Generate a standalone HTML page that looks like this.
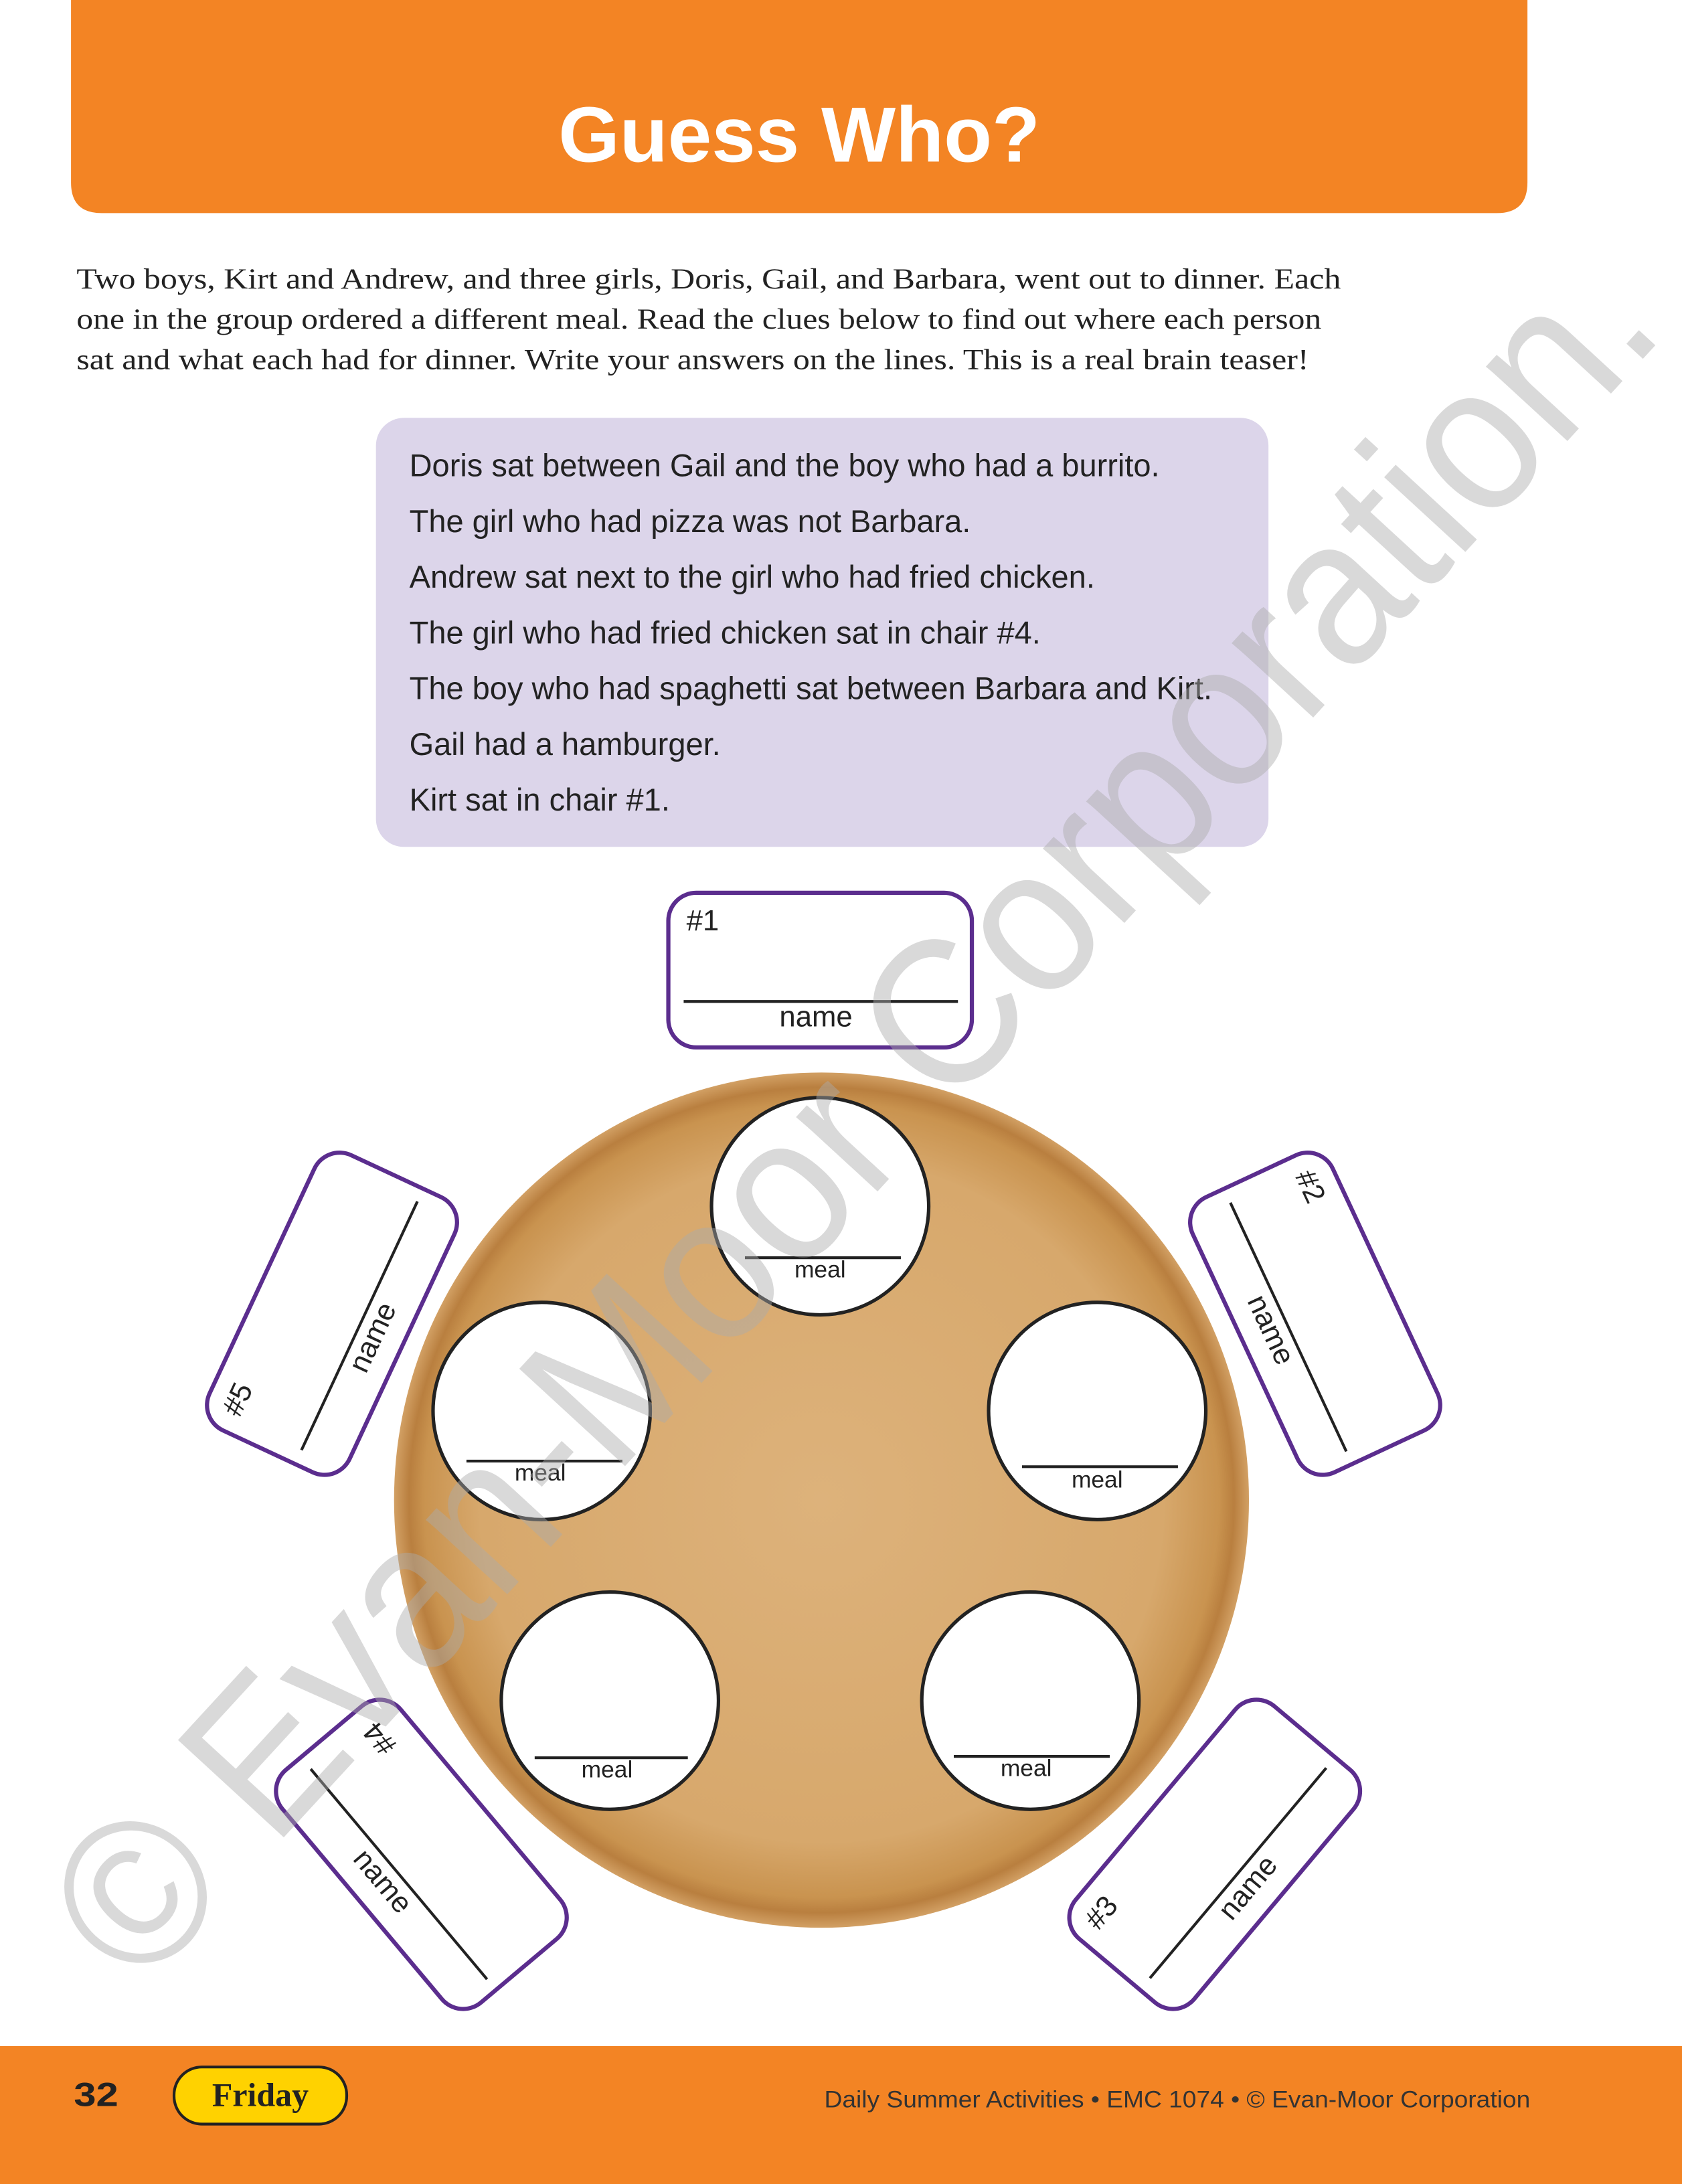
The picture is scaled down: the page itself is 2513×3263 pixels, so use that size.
<!DOCTYPE html>
<html><head><meta charset="utf-8"><style>
html,body{margin:0;padding:0;background:#fff;}
svg{display:block;}
</style></head><body>
<svg width="2513" height="3263" viewBox="0 0 1208 1568" preserveAspectRatio="none" xmlns="http://www.w3.org/2000/svg">
<defs>
<radialGradient id="wood" cx="50%" cy="50%" r="50%">
<stop offset="0" stop-color="#DDB27B"/>
<stop offset="0.8" stop-color="#D7A86C"/>
<stop offset="0.93" stop-color="#C9934F"/>
<stop offset="0.965" stop-color="#B97F3F"/>
<stop offset="1" stop-color="#D2A064"/>
</radialGradient>
</defs>
<rect width="1208" height="1568" fill="#fff"/>
<path d="M51 0 H1097 V131 Q1097 153 1075 153 H73 Q51 153 51 131 Z" fill="#F38424"/>
<text x="574" y="116" text-anchor="middle" font-family="Liberation Sans, sans-serif" font-weight="bold" font-size="56" fill="#fff" textLength="346" lengthAdjust="spacingAndGlyphs">Guess Who?</text>
<g font-family="Liberation Serif, serif" font-size="21" fill="#222">
<text x="55" y="207" textLength="908" lengthAdjust="spacingAndGlyphs">Two boys, Kirt and Andrew, and three girls, Doris, Gail, and Barbara, went out to dinner. Each</text>
<text x="55" y="236" textLength="894" lengthAdjust="spacingAndGlyphs">one in the group ordered a different meal. Read the clues below to find out where each person</text>
<text x="55" y="265" textLength="885" lengthAdjust="spacingAndGlyphs">sat and what each had for dinner. Write your answers on the lines. This is a real brain teaser!</text>
</g>
<rect x="270" y="300" width="641" height="308" rx="20" fill="#DCD5EA"/>
<g font-family="Liberation Sans, sans-serif" font-size="22.6" fill="#222">
<text x="294" y="342">Doris sat between Gail and the boy who had a burrito.</text>
<text x="294" y="382">The girl who had pizza was not Barbara.</text>
<text x="294" y="422">Andrew sat next to the girl who had fried chicken.</text>
<text x="294" y="462">The girl who had fried chicken sat in chair #4.</text>
<text x="294" y="502">The boy who had spaghetti sat between Barbara and Kirt.</text>
<text x="294" y="542">Gail had a hamburger.</text>
<text x="294" y="582">Kirt sat in chair #1.</text>
</g>
<circle cx="590" cy="1077" r="307" fill="url(#wood)"/>
<g stroke="#222" stroke-width="2.5" fill="#fff">
<circle cx="589" cy="866" r="78"/><circle cx="788" cy="1013" r="78"/><circle cx="389" cy="1013" r="78"/>
<circle cx="438" cy="1221" r="78"/><circle cx="740" cy="1221" r="78"/>
</g>
<g stroke="#222" stroke-width="2">
<line x1="535" y1="903" x2="647" y2="903"/><line x1="734" y1="1053" x2="846" y2="1053"/>
<line x1="335" y1="1049" x2="447" y2="1049"/><line x1="384" y1="1262" x2="494" y2="1262"/>
<line x1="685" y1="1261" x2="797" y2="1261"/>
</g>
<g font-family="Liberation Sans, sans-serif" font-size="17" fill="#222" text-anchor="middle">
<text x="589" y="917">meal</text><text x="788" y="1068">meal</text><text x="388" y="1063">meal</text>
<text x="436" y="1276">meal</text><text x="737" y="1275">meal</text>
</g>
<g font-family="Liberation Sans, sans-serif" font-size="21" fill="#222">
<g transform="translate(589,696)">
<rect x="-109" y="-55" width="218" height="111" rx="20" fill="#fff" stroke="#5B2D8E" stroke-width="3"/>
<line x1="-98" y1="23" x2="99" y2="23" stroke="#222" stroke-width="2"/>
<text x="-96" y="-28">#1</text><text x="-3" y="41" text-anchor="middle">name</text></g>
<g transform="translate(945,943) rotate(65)">
<rect x="-109" y="-55" width="218" height="111" rx="20" fill="#fff" stroke="#5B2D8E" stroke-width="3"/>
<line x1="-98" y1="22" x2="99" y2="22" stroke="#222" stroke-width="2"/>
<text x="-96" y="-28">#2</text><text x="-3" y="41" text-anchor="middle">name</text></g>
<g transform="translate(872,1331) rotate(-50)">
<rect x="-109" y="-55" width="218" height="111" rx="20" fill="#fff" stroke="#5B2D8E" stroke-width="3"/>
<line x1="-98" y1="22" x2="99" y2="22" stroke="#222" stroke-width="2"/>
<text x="-96" y="-28">#3</text><text x="-3" y="41" text-anchor="middle">name</text></g>
<g transform="translate(303,1331) rotate(50)">
<rect x="-109" y="-55" width="218" height="111" rx="20" fill="#fff" stroke="#5B2D8E" stroke-width="3"/>
<line x1="-98" y1="22" x2="99" y2="22" stroke="#222" stroke-width="2"/>
<text x="-83" y="-37" transform="rotate(180 -83 -37)" text-anchor="middle">#4</text><text x="-3" y="41" text-anchor="middle">name</text></g>
<g transform="translate(238,943) rotate(-65)">
<rect x="-109" y="-55" width="218" height="111" rx="20" fill="#fff" stroke="#5B2D8E" stroke-width="3"/>
<line x1="-98" y1="22" x2="99" y2="22" stroke="#222" stroke-width="2"/>
<text x="-96" y="-28">#5</text><text x="-3" y="41" text-anchor="middle">name</text></g>
</g>
<text x="0" y="0" transform="translate(620,808) rotate(-47.4)" text-anchor="middle" dominant-baseline="middle" font-family="Liberation Sans, sans-serif" font-size="150" fill="rgba(170,170,170,0.45)" textLength="1620" lengthAdjust="spacingAndGlyphs">© Evan-Moor Corporation.</text>
<rect x="0" y="1469" width="1208" height="99" fill="#F38424"/>
<text x="53" y="1512" font-family="Liberation Sans, sans-serif" font-weight="bold" font-size="24" fill="#222" textLength="32" lengthAdjust="spacingAndGlyphs">32</text>
<rect x="125" y="1484" width="124" height="41" rx="20" fill="#FFD200" stroke="#222" stroke-width="2"/>
<text x="187" y="1512" text-anchor="middle" font-family="Liberation Serif, serif" font-weight="bold" font-size="24" fill="#222">Friday</text>
<text x="592" y="1513" font-family="Liberation Sans, sans-serif" font-size="17" fill="#333" textLength="507" lengthAdjust="spacingAndGlyphs">Daily Summer Activities • EMC 1074 • © Evan-Moor Corporation</text>
</svg>
</body></html>
